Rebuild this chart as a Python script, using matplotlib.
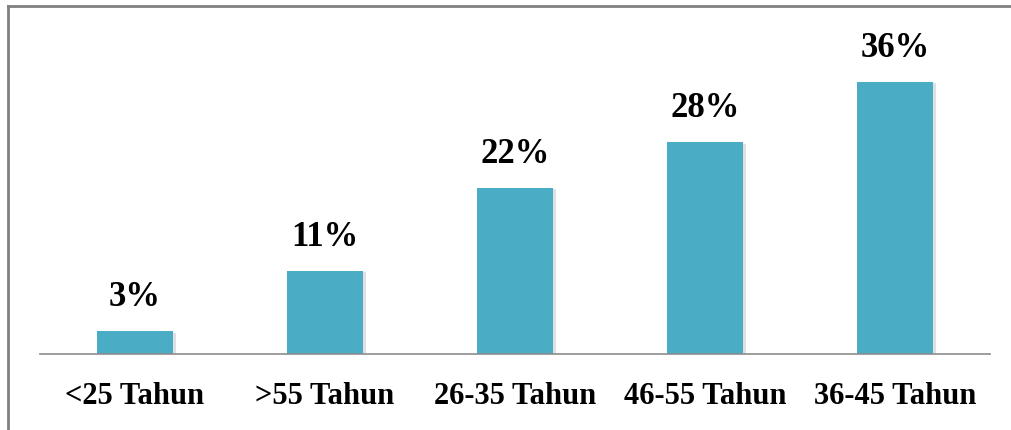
import matplotlib
matplotlib.use("Agg")
import matplotlib.pyplot as plt
import matplotlib.patheffects as pe
from matplotlib.lines import Line2D

# data
categories = ["<25 Tahun", ">55 Tahun", "26-35 Tahun", "46-55 Tahun", "36-45 Tahun"]
percentages = [3, 11, 22, 28, 36]

W, H = 1012, 430
fig = plt.figure(figsize=(W / 100, H / 100), dpi=100)
fig.patch.set_facecolor("white")

# axes placed to match pixel layout (baseline at y=354, span x 40..990)
ax = fig.add_axes([40 / W, 1 - 354 / H, 950 / W, (354 - 20) / H])
ax.set_facecolor("white")

bars = ax.bar(range(len(categories)), percentages, width=0.4, color="#4BACC6",
              edgecolor="none", zorder=2)
for b in bars:
    b.set_path_effects([pe.SimplePatchShadow(offset=(2, -1), shadow_rgbFace="#9a9a9a", alpha=0.3),
                        pe.Normal()])

ax.set_xlim(-0.5, 4.5)
ax.set_ylim(0, 44.2)

serif = ["Liberation Serif", "DejaVu Serif"]
for i, v in enumerate(percentages):
    ax.annotate(f"{v}%", xy=(i, v), xytext=(0, 25), textcoords="offset pixels",
                ha="center", va="baseline", fontsize=25, fontweight="bold",
                family=serif, color="black")

ax.set_xticks(range(len(categories)))
ax.set_xticklabels(categories, fontsize=22, fontweight="bold", family=serif)
ax.tick_params(axis="x", length=0, pad=20)
ax.set_yticks([])

for s in ["top", "right", "left"]:
    ax.spines[s].set_visible(False)
ax.spines["bottom"].set_color("#8c8c8c")
ax.spines["bottom"].set_linewidth(1.2)

# outer grey frame (left and top edges visible)
fig.add_artist(Line2D([8 / W, 8 / W], [0, 1 - 6 / H], transform=fig.transFigure,
                      color="#808080", linewidth=2))
fig.add_artist(Line2D([8 / W, 1], [1 - 6 / H, 1 - 6 / H], transform=fig.transFigure,
                      color="#808080", linewidth=2))

fig.savefig("out.png", dpi=100)
